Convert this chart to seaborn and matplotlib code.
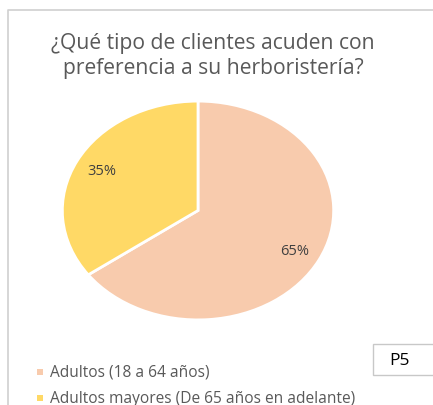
import matplotlib
matplotlib.use("Agg")
import matplotlib.pyplot as plt
from matplotlib.patches import Rectangle
import seaborn as sns

# datos del gráfico
categorias = ["Adultos (18 a 64 años)", "Adultos mayores (De 65 años en adelante)"]
porcentajes = [65, 35]
colores = ["#F8CBAD", "#FFD966"]
titulo = "¿Qué tipo de clientes acuden con\npreferencia a su herboristería?"
etiqueta_caja = "P5"

W, H = 433, 406

sns.set_style("white")
plt.rcParams["font.family"] = ["Open Sans", "DejaVu Sans"]

fig = plt.figure(figsize=(W / 100, H / 100), dpi=100)
fig.patch.set_facecolor("white")


def px(x, y):
    # pixel coordinates (origin top-left) -> figure fraction
    return x / W, 1 - y / H


# borde del área del gráfico
bg = fig.add_axes([0, 0, 1, 1])
bg.set_xlim(0, W)
bg.set_ylim(H, 0)
bg.axis("off")
bg.plot([8, 8, W], [H + 5, 11, 11], color="#D0D0D0", lw=1.2, clip_on=True)

# pastel (ligeramente ovalado como el original)
ax = fig.add_axes([61 / W, (H - 322) / H, 274 / W, 221 / H])
wedges, textos, autotextos = ax.pie(
    porcentajes,
    colors=colores,
    startangle=90,
    counterclock=False,
    autopct="%1.0f%%",
    pctdistance=0.8,
    wedgeprops=dict(edgecolor="white", linewidth=2),
    textprops=dict(color="#404040", fontsize=10.5),
)
ax.set_aspect("auto")
ax.set_xlim(-1.01, 1.01)
ax.set_ylim(-1.01, 1.01)
ax.axis("off")

# título
fig.text(*px(213, 56), titulo, ha="center", va="center", fontsize=15.2,
         color="#595959", linespacing=1.2)

# leyenda
for i, (lab, col) in enumerate(zip(categorias, colores)):
    y = 373 + i * 26
    bg.add_patch(Rectangle((37, y - 3), 5.5, 5.5, color=col, lw=0))
    bg.text(50, y, lab, ha="left", va="center", fontsize=11.2, color="#595959")

# caja "P5"
bg.add_patch(Rectangle((373, 345), 80, 31, facecolor="white",
                       edgecolor="#C8C8C8", lw=1))
bg.text(389, 361, etiqueta_caja, ha="left", va="center", fontsize=12.5,
        color="black")

fig.savefig("out.png", dpi=100)
